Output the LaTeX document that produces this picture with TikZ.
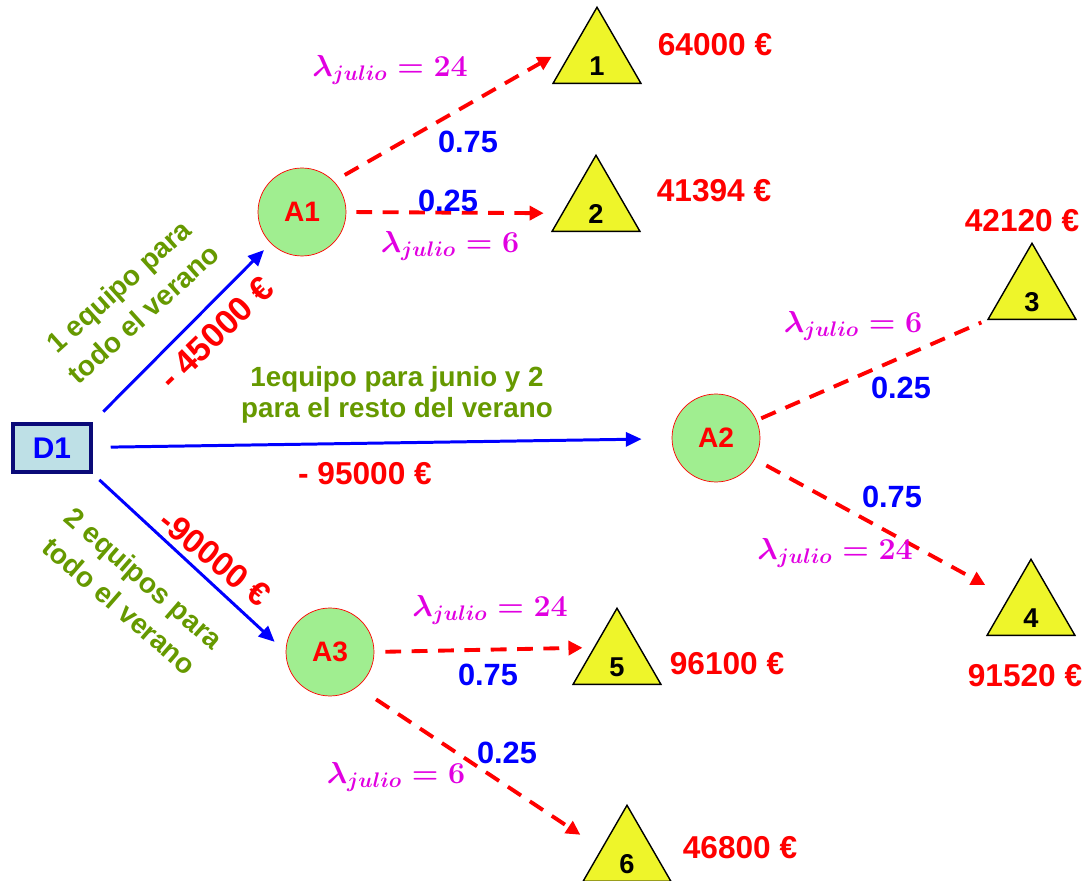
\documentclass[tikz,border=0pt]{standalone}
\usepackage{fontspec}
\setmainfont{Liberation Sans}
\usetikzlibrary{shapes.geometric,arrows.meta}
\definecolor{decfill}{RGB}{190,224,230}
\definecolor{decline}{RGB}{10,10,120}
\definecolor{chancefill}{RGB}{160,238,144}
\definecolor{leaffill}{RGB}{238,245,42}
\definecolor{optgreen}{RGB}{102,153,0}
\definecolor{ratemag}{RGB}{225,0,225}
\tikzset{
  decision/.style={rectangle,draw=decline,line width=2pt,fill=decfill,minimum width=1.56cm,minimum height=0.96cm,text=blue,font=\fontsize{17}{20}\selectfont\bfseries},
  chance/.style={circle,draw=red,fill=chancefill,minimum size=1.76cm,inner sep=0pt,text=red,font=\fontsize{16}{19}\selectfont\bfseries},
  leaf/.style={regular polygon,regular polygon sides=3,draw=black,line width=0.8pt,fill=leaffill,minimum size=2.03cm,inner sep=0pt},
  leafnum/.style={yshift=-0.16cm,font=\fontsize{15.5}{18}\selectfont\bfseries},
  payoff/.style={text=red,font=\fontsize{18}{21}\selectfont\bfseries},
  prob/.style={text=blue,font=\fontsize{17.5}{20}\selectfont\bfseries},
  rate/.style={text=ratemag,font=\fontsize{18}{21}\selectfont\boldmath},
  option/.style={text=optgreen,font=\fontsize{15.8}{18}\selectfont\bfseries,align=center},
  choice/.style={draw=blue,line width=1.7pt,-{Triangle[length=9pt,width=8pt]}},
  outcome/.style={draw=red,line width=2.2pt,dash pattern=on 9pt off 6pt,-{Triangle[length=8pt,width=8pt]}}
}
\begin{document}
\begin{tikzpicture}[x=0.02cm,y=-0.02cm]
\useasboundingbox (0,0) rectangle (1083,881);
% decision and chance nodes
\node[decision] (d1) at (52,448) {D1};
\node[chance] (a1) at (302,212) {A1};
\node[chance] (a2) at (716,438) {A2};
\node[chance] (a3) at (330,652) {A3};
% end nodes
\node[leaf,label={[leafnum]center:1}] (t1) at (597,58) {};
\node[leaf,label={[leafnum]center:2}] (t2) at (596,206) {};
\node[leaf,label={[leafnum]center:3}] (t3) at (1032,294) {};
\node[leaf,label={[leafnum]center:4}] (t4) at (1031,610) {};
\node[leaf,label={[leafnum]center:5}] (t5) at (617,659) {};
\node[leaf,label={[leafnum]center:6}] (t6) at (627,856) {};
% decisions
\draw[choice,shorten <=0.3cm,shorten >=0.19cm] (d1.north east) -- (a1.south west);
\draw[choice,shorten <=0.36cm,shorten >=0.6cm] (d1) -- (a2);
\draw[choice,shorten <=0.18cm,shorten >=0.3cm] (d1.south east) -- (a3.west);
% outcomes
\draw[outcome,shorten <=0.25cm,shorten >=0.55cm] (a1.44) -- (t1.145);
\draw[outcome,shorten <=0.2cm,shorten >=0.36cm] (a1.east) -- (t2.192);
\draw[outcome,-,shorten <=0.1cm,shorten >=0.12cm] (a2) -- (t3.corner 2);
\draw[outcome,shorten <=0.26cm,shorten >=0.52cm] (a2) -- (t4);
\draw[outcome,shorten <=0.22cm,shorten >=0.22cm] (a3.east) -- (t5.154);
\draw[outcome,shorten <=0.45cm,shorten >=0.5cm] (a3.-52) -- (t6.164);
% labels
\node[option,rotate=42,font=\fontsize{16}{21}\selectfont\bfseries] (o1) at (131,300) {1 equipo para\\todo el verano};
\node[option] (o2) at (397,395) {1equipo para junio y 2\\para el resto del verano};
\node[option,rotate=-41,font=\fontsize{16}{21}\selectfont\bfseries] (o3) at (132,592) {2 equipos para\\todo el verano};
\node[payoff,rotate=44,font=\fontsize{19.5}{22}\selectfont\bfseries] (c1) at (216,333) {- 45000 €};
\node[payoff] (c2) at (365,474) {- 95000 €};
\node[payoff,rotate=-39,font=\fontsize{19}{22}\selectfont\bfseries] (c3) at (215,558) {-90000 €};
\node[prob] (p1) at (468,142) {0.75};
\node[prob] (p2) at (448,201) {0.25};
\node[prob] (p3) at (901,388) {0.25};
\node[prob] (p4) at (892,497) {0.75};
\node[prob] (p5) at (488,675) {0.75};
\node[prob] (p6) at (507,753) {0.25};
\node[rate] (r1) at (390,70) {$\lambda_{julio}=24$};
\node[rate] (r2) at (450,246) {$\lambda_{julio}=6$};
\node[rate] (r3) at (853,326) {$\lambda_{julio}=6$};
\node[rate] (r4) at (835,553) {$\lambda_{julio}=24$};
\node[rate] (r5) at (490,610) {$\lambda_{julio}=24$};
\node[rate] (r6) at (396,777) {$\lambda_{julio}=6$};
\node[payoff] (v1) at (715,45) {64000 €};
\node[payoff] (v2) at (714,191) {41394 €};
\node[payoff] (v3) at (1022,221) {42120 €};
\node[payoff] (v4) at (1025,676) {91520 €};
\node[payoff] (v5) at (727,664) {96100 €};
\node[payoff] (v6) at (740,848) {46800 €};
\end{tikzpicture}
\end{document}
